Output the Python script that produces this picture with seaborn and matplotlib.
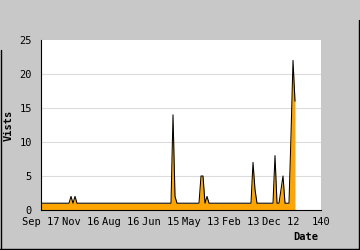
import matplotlib
matplotlib.use("Agg")
import matplotlib.pyplot as plt
import seaborn as sns
import pandas as pd
from matplotlib.lines import Line2D

# ---- data ----
days = list(range(128))
visits = ([1] * 15 + [2, 1, 2] + [1] * 47 +
          [1, 14, 2, 1] + [1] * 11 + [5, 5, 1, 2, 1] + [1] * 20 +
          [1, 7, 3, 1] + [1] * 7 +
          [1, 8, 1, 1, 3, 5, 1, 1, 1, 11, 22, 16])
x_ticks = [0, 20, 40, 60, 80, 100, 120, 140]
x_tick_labels = ["Sep 17", "Nov 16", "Aug 16", "Jun 15", "May 13", "Feb 13", "Dec 12", "140"]
y_ticks = [0, 5, 10, 15, 20, 25]

df = pd.DataFrame({"day": days, "visits": visits})

sns.set_style("white")
plt.rcParams["font.family"] = ["DejaVu Sans Mono", "DejaVu Sans"]

W, H = 360, 250
fig = plt.figure(figsize=(W / 100, H / 100), dpi=100)
fig.patch.set_facecolor("#c8c8c8")
ax = fig.add_axes([41 / W, 40 / H, 280 / W, 170 / H])
ax.set_facecolor("white")

ax.fill_between(df["day"], df["visits"], 0, color="#ffa500", linewidth=0, zorder=2)
sns.lineplot(data=df, x="day", y="visits", ax=ax, color="black", linewidth=0.75, zorder=3)

ax.set_xlim(0, 140)
ax.set_ylim(0, 25)
ax.set_xticks(x_ticks)
ax.set_xticklabels(x_tick_labels)
ax.set_yticks(y_ticks)
ax.set_yticks(range(0, 26), minor=True)
ax.set_xlabel("")
ax.set_ylabel("")

for y in [5, 10, 15, 20]:
    ax.axhline(y, color="#dcdcdc", linewidth=0.8, zorder=1)

for s in ["top", "right"]:
    ax.spines[s].set_visible(False)
for s in ["left", "bottom"]:
    ax.spines[s].set_color("black")
    ax.spines[s].set_linewidth(0.8)
    ax.spines[s].set_zorder(4)

ax.tick_params(axis="y", which="major", direction="in", length=3.2, width=0.8,
               color="black", pad=6.5, labelsize=7.5, labelcolor="black")
ax.tick_params(axis="y", which="minor", direction="in", length=2.0, width=0.8, color="black")
ax.tick_params(axis="x", which="major", direction="in", length=3.6, width=0.8,
               color="black", pad=5, labelsize=7.5, labelcolor="black")

fig.text(9 / W, 1 - 125 / H, "Vists", rotation=90, ha="center", va="center",
         fontsize=7.5, fontweight="bold", color="black")
fig.text(318 / W, 1 - 237 / H, "Date", ha="right", va="center",
         fontsize=7.5, fontweight="bold", color="black")

# outer frame (left, right, bottom)
lw = 1.0
fig.add_artist(Line2D([0.5 / W, 0.5 / W], [0, 1 - 50 / H], transform=fig.transFigure, color="black", lw=lw))
fig.add_artist(Line2D([1 - 1 / W, 1 - 1 / W], [0, 1 - 20 / H], transform=fig.transFigure, color="black", lw=lw))
fig.add_artist(Line2D([0, 1], [1.5 / H, 1.5 / H], transform=fig.transFigure, color="black", lw=lw))

fig.savefig("out.png", dpi=100, facecolor=fig.get_facecolor())
